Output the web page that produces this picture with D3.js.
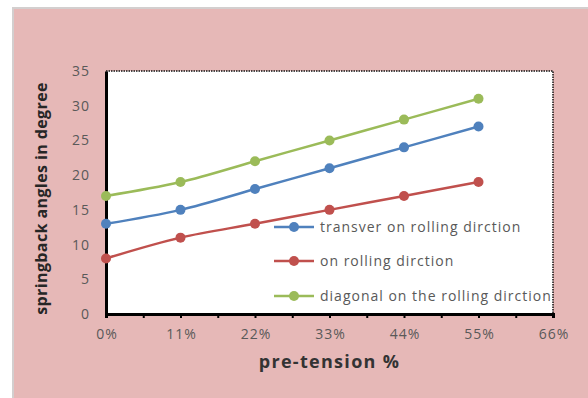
<!DOCTYPE html>
<html><head><meta charset="utf-8">
<script src="https://cdn.jsdelivr.net/npm/d3@7"></script>
<style>html,body{margin:0;padding:0;background:#fff;}svg{display:block;}</style>
</head><body>
<svg id="c" width="588" height="398"></svg>
<script>
const categories = ["0%","11%","22%","33%","44%","55%"];
const xTicks = ["0%","11%","22%","33%","44%","55%","66%"];
const xValues = [0,11,22,33,44,55];
const transver = [13,15,18,21,24,27];
const onRolling = [8,11,13,15,17,19];
const diagonal = [17,19,22,25,28,31];
const seriesNames = ["transver on rolling dirction","on rolling dirction","diagonal on the rolling dirction"];
const yTicks = [0,5,10,15,20,25,30,35];

const colors = ["#4f81bd","#c0504d","#9bbb59"];
const svg = d3.select("#c");
// background
svg.append("rect").attr("x",12).attr("y",7).attr("width",576).attr("height",391).attr("fill","#d3cfcf");
svg.append("rect").attr("x",14).attr("y",9).attr("width",574).attr("height",389).attr("fill","#e6b8b7");

const L=106,R=553,T=71,B=314;
const x = d3.scaleLinear().domain([0,66]).range([L,R]);
const y = d3.scaleLinear().domain([0,35]).range([B,T]);

svg.append("rect").attr("x",L).attr("y",T).attr("width",R-L).attr("height",B-T).attr("fill","#fff");
// top/right dotted border
svg.append("path").attr("d",`M${L},${T}H${R}V${B}`).attr("fill","none").attr("stroke","#111").attr("stroke-width",1.5).attr("stroke-dasharray","1.5,1");

// axes
const xAxis = d3.axisBottom(x).tickValues(d3.range(0,66.1,5.5)).tickSize(4).tickFormat("");
const gx = svg.append("g").attr("transform",`translate(0,${B})`).call(xAxis);
gx.select(".domain").attr("stroke","#000").attr("stroke-width",3);
gx.selectAll(".tick line").attr("stroke","#000").attr("stroke-width",2);

svg.append("g").selectAll("text").data(xTicks).join("text")
  .attr("x",(d,i)=>x(i*11)+1).attr("y",339).attr("text-anchor","middle")
  .attr("font-family","Open Sans, sans-serif").attr("font-size",14).attr("letter-spacing",1).attr("fill","#595959").text(d=>d);

const yAxis = d3.axisLeft(y).tickValues(yTicks).tickSize(0).tickPadding(16);
const gy = svg.append("g").attr("transform",`translate(${L},0)`).call(yAxis);
gy.select(".domain").attr("stroke","#000").attr("stroke-width",3);
gy.selectAll("text").attr("font-family","Open Sans, sans-serif").attr("font-size",14).attr("letter-spacing",1).attr("fill","#595959");

// titles
svg.append("text").attr("transform",`translate(47,${(T+B)/2+6}) rotate(-90)`).attr("text-anchor","middle")
  .attr("font-family","Open Sans, sans-serif").attr("font-weight","bold").attr("font-size",16).attr("letter-spacing",0.4).attr("fill","#262626")
  .text("springback angles in degree");
svg.append("text").attr("x",(L+R)/2).attr("y",368).attr("text-anchor","middle")
  .attr("font-family","Open Sans, sans-serif").attr("font-weight","bold").attr("font-size",18).attr("letter-spacing",1.3).attr("fill","#333")
  .text("pre-tension %");

const data = [transver,onRolling,diagonal];
const line = d3.line().x((d,i)=>x(xValues[i])).y(d=>y(d)).curve(d3.curveCatmullRom.alpha(0.5));
data.forEach((s,k)=>{
  svg.append("path").datum(s).attr("d",line).attr("fill","none").attr("stroke",colors[k]).attr("stroke-width",2.5);
  svg.append("g").selectAll("circle").data(s).join("circle")
    .attr("cx",(d,i)=>x(xValues[i])).attr("cy",d=>y(d)).attr("r",5).attr("fill",colors[k]);
});

// legend
const legY=[227,261,296];
seriesNames.forEach((n,k)=>{
  const g=svg.append("g");
  g.append("line").attr("x1",274).attr("x2",314).attr("y1",legY[k]).attr("y2",legY[k]).attr("stroke",colors[k]).attr("stroke-width",2.5);
  g.append("circle").attr("cx",294).attr("cy",legY[k]).attr("r",5).attr("fill",colors[k]);
  g.append("text").attr("x",320).attr("y",legY[k]+5).attr("font-family","Open Sans, sans-serif").attr("font-size",14).attr("letter-spacing",1)
    .attr("fill","#595959").text(n);
});
</script>
</body></html>
